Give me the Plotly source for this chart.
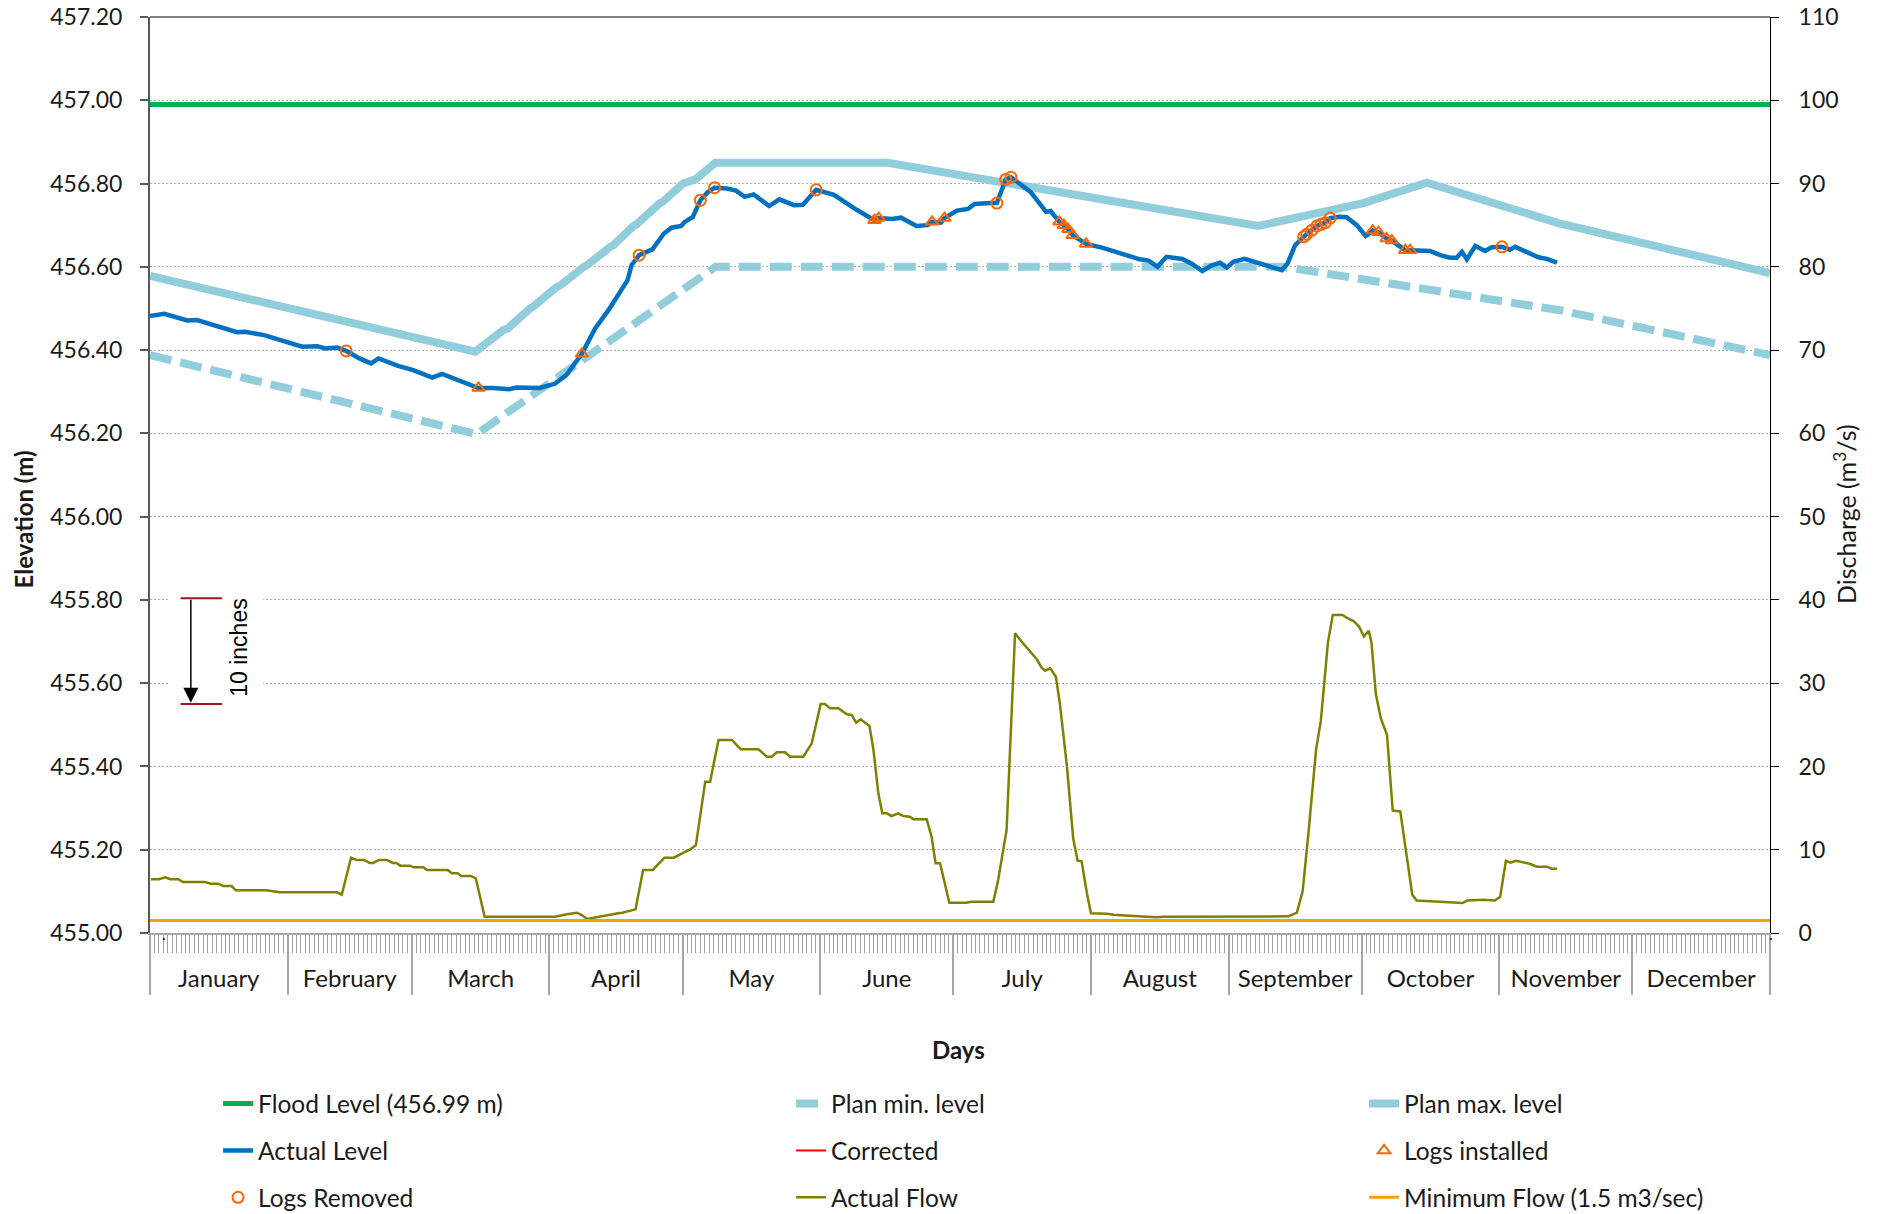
import pandas as pd
import plotly.graph_objects as go

YEAR_START = pd.Timestamp("2015-01-01")
YEAR_END = pd.Timestamp("2016-01-01")

# ---- Reservoir operating envelope (day of year, elevation m) ----
plan_max_day = [0, 73.3, 79.6, 80.6, 85.6, 86.4, 91.6, 92.4, 97.7, 98.5, 103.7, 104.4,
                108.9, 109.6, 114.9, 115.6, 120.1, 122.9, 127.4, 166.2, 249.7, 273.4,
                287.7, 317.3, 365]
plan_max_elev = [456.578, 456.396, 456.448, 456.452, 456.500, 456.505, 456.551, 456.555,
                 456.600, 456.604, 456.648, 456.652, 456.698, 456.702, 456.753, 456.757,
                 456.800, 456.810, 456.850, 456.850, 456.698, 456.753, 456.802, 456.705,
                 456.585]

plan_min_day = [0, 73.6, 127.4, 255.4, 318, 365]
plan_min_elev = [456.388, 456.198, 456.600, 456.600, 456.495, 456.388]

flood_day = [0, 365]
flood_elev = [456.99, 456.99]

# ---- Observed reservoir level ----
level_day = [0, 3.2, 8.4, 10.6, 19.6, 21.4, 25.7, 34.3, 37.7, 39.5, 42.1, 44.2, 47.2, 49.8,
             51.5, 55.9, 59.3, 63.6, 65.8, 68.8, 74.0, 77.4, 80.9, 82.6, 87.8, 91.2, 93.8,
             97.3, 100.3, 103.3, 107.6, 108.5, 110.2, 113.2, 115.8, 117.5, 119.7, 120.5,
             122.3, 124.0, 125.7, 127.2, 130, 132, 134, 136, 139.5, 141.8, 145.1, 147.1,
             150.1, 154.1, 157.1, 159.2, 163.2, 164.2, 167.2, 169.2, 172.7, 175.2, 176.2,
             178.2, 179.0, 181.8, 184.3, 185.8, 189.3, 190.8, 192.8, 194.0, 198.4, 201.9,
             202.9, 204.9, 205.9, 206.9, 207.9, 210.9, 214.5, 218, 220.5, 223, 225, 227,
             229, 232.6, 234.6, 237.1, 239.1, 241.1, 242.6, 244.1, 246.6, 249.4, 252.7,
             255.0, 256.3, 258.0, 259.9, 260.6, 261.8, 262.9, 263.8, 264.8, 265.9, 268.1,
             269.6, 271.9, 273.9, 275.5, 276.8, 278.6, 279.8, 281.7, 282.8, 283.9, 286.2,
             288.4, 290.7, 292.9, 294.4, 295.6, 296.7, 298.6, 300.8, 302.3, 304.6, 306.4,
             307.6, 310.2, 312.8, 314.7, 317.0]
level_elev = [456.482, 456.487, 456.471, 456.472, 456.443, 456.444, 456.436, 456.408,
              456.409, 456.404, 456.406, 456.398, 456.380, 456.368, 456.380, 456.362,
              456.352, 456.334, 456.343, 456.330, 456.309, 456.309, 456.306, 456.310,
              456.309, 456.319, 456.340, 456.391, 456.452, 456.496, 456.568, 456.604,
              456.628, 456.642, 456.680, 456.694, 456.698, 456.708, 456.720, 456.760,
              456.780, 456.790, 456.788, 456.783, 456.768, 456.774, 456.746, 456.762,
              456.748, 456.749, 456.785, 456.773, 456.751, 456.737, 456.712, 456.717,
              456.715, 456.718, 456.698, 456.700, 456.708, 456.706, 456.717, 456.735,
              456.739, 456.751, 456.753, 456.753, 456.810, 456.815, 456.780, 456.732,
              456.734, 456.708, 456.700, 456.690, 456.676, 456.655, 456.646, 456.634,
              456.628, 456.618, 456.615, 456.600, 456.624, 456.619, 456.608, 456.590,
              456.603, 456.610, 456.598, 456.612, 456.619, 456.610, 456.599, 456.592,
              456.608, 456.652, 456.672, 456.678, 456.688, 456.698, 456.702, 456.706,
              456.717, 456.720, 456.719, 456.700, 456.674, 456.687, 456.683, 456.668,
              456.663, 456.647, 456.640, 456.640, 456.639, 456.638, 456.628, 456.622,
              456.622, 456.636, 456.618, 456.650, 456.638, 456.647, 456.648, 456.641,
              456.648, 456.635, 456.623, 456.619, 456.610]

# ---- Stop-log operations ----
installed_day = [74.0, 97.3, 163.2, 164.2, 176.2, 179.0, 204.9, 205.9, 206.9, 207.9, 210.9,
                 275.5, 276.8, 278.6, 279.8, 282.8, 283.9]
installed_elev = [456.309, 456.391, 456.712, 456.717, 456.708, 456.717, 456.708, 456.700,
                  456.690, 456.676, 456.655, 456.687, 456.683, 456.668, 456.663, 456.640,
                  456.640]

removed_day = [44.2, 110.2, 124.0, 127.2, 150.1, 190.8, 192.8, 194.0, 259.9, 260.6, 261.8,
               262.9, 263.8, 264.8, 265.9, 304.6]
removed_elev = [456.398, 456.628, 456.760, 456.790, 456.785, 456.753, 456.810, 456.815,
                456.672, 456.678, 456.688, 456.698, 456.702, 456.706, 456.717, 456.648]

# ---- Discharge (m3/s) ----
flow_day = [0.2, 2, 3.4, 4.6, 6.4, 7.4, 12.4, 13.7, 15.4, 16.5, 18.4, 19.3, 26.2, 29.2, 42.1,
            43.2, 45.3, 46.5, 48.2, 49.5, 50.3, 51.6, 53.4, 54.7, 55.5, 56.4, 58.5, 59.4,
            61.6, 62.4, 67.1, 68.0, 69.3, 70.2, 72.3, 73.4, 75.4, 91.3, 93.9, 95.2, 96.2,
            97.3, 98.5, 105.5, 106.4, 109.4, 111.1, 113.3, 115.9, 118.0, 120.2, 121.9,
            123.0, 125.1, 126.2, 128.1, 131.1, 133.1, 137.1, 139.0, 140.1, 141.2, 143.1,
            144.2, 147.2, 149.1, 151.1, 152.1, 153.2, 155.1, 157.0, 158.1, 159.1, 160.1,
            162.1, 163.0, 164.1, 165.0, 166.0, 167.1, 168.6, 169.7, 171.2, 172.0, 175.0,
            176.1, 177.0, 178.0, 180.1, 184.0, 185.1, 190.0, 191.1, 193.0, 194.9, 196.4,
            199.8, 200.9, 201.7, 202.8, 204.1, 205.0, 206.6, 208.0, 209.0, 209.9, 211.1,
            212.0, 215.6, 217.1, 221.6, 226.8, 228.3, 236.6, 256.5, 258.4, 259.7, 261.1,
            262.7, 263.8, 265.4, 266.5, 268.7, 269.8, 271.1, 272.4, 273.5, 274.6, 275.2,
            276.2, 277.3, 278.7, 279.5, 280.0, 281.7, 282.7, 284.4, 285.4, 295.7, 296.8,
            300.3, 303.0, 304.2, 305.5, 306.5, 307.8, 309.4, 311.0, 312.5, 314.7, 315.8,
            317.0]
flow_val = [6.45, 6.45, 6.69, 6.45, 6.45, 6.12, 6.12, 5.92, 5.92, 5.64, 5.64, 5.12, 5.12,
            4.88, 4.88, 4.60, 9.05, 8.77, 8.77, 8.41, 8.41, 8.77, 8.77, 8.41, 8.41, 8.09,
            8.09, 7.89, 7.89, 7.57, 7.57, 7.17, 7.17, 6.85, 6.85, 6.57, 1.96, 1.96, 2.24,
            2.36, 2.44, 2.16, 1.68, 2.36, 2.44, 2.84, 7.57, 7.57, 9.05, 9.05, 9.69, 10.09,
            10.57, 18.17, 18.17, 23.18, 23.18, 22.06, 22.06, 21.17, 21.17, 21.70, 21.70,
            21.17, 21.17, 22.78, 27.50, 27.50, 26.98, 26.98, 26.26, 26.18, 25.26, 25.66,
            24.86, 21.98, 16.78, 14.37, 14.37, 14.05, 14.37, 14.05, 13.97, 13.65, 13.65,
            11.56, 8.37, 8.37, 3.64, 3.64, 3.76, 3.76, 6.36, 12.37, 35.99, 34.98, 32.87,
            31.86, 31.50, 31.82, 30.78, 27.58, 19.97, 11.37, 8.68, 8.60, 4.77, 2.37, 2.32,
            2.20, 2.04, 1.88, 1.96, 1.96, 2.00, 2.45, 5.0, 12.5, 21.9, 25.5, 34.9, 38.2,
            38.2, 37.8, 37.5, 36.8, 35.6, 36.3, 34.9, 28.7, 25.8, 23.8, 18.6, 14.7, 14.6,
            11.1, 4.6, 3.9, 3.6, 3.9, 4.0, 3.9, 4.36, 8.68, 8.44, 8.68, 8.44, 8.29, 7.97,
            7.97, 7.73, 7.73]

min_flow_day = [0, 365]
min_flow_val = [1.5, 1.5]

# Corrected level series (no corrections this year)
corrected_day = [0]
corrected_elev = [None]

# 10-inch reference bar (0.254 m)
bar_day = [6.9, 16.2]
bar_top = 455.804
bar_len_m = 0.254
bar_arrow_day = 9.2


def to_date(days):
    return [YEAR_START + pd.Timedelta(days=float(d)) for d in days]


FONT = "Lato"
TXT = "#1a1a1a"
PLAN = "#92CDDC"
ORANGE = "#FF6600"

fig = go.Figure()

fig.add_trace(go.Scatter(x=to_date(plan_max_day), y=plan_max_elev, mode="lines",
                         name="Plan max. level", line=dict(color=PLAN, width=8),
                         legend="legend", legendrank=3, legendwidth=300))
fig.add_trace(go.Scatter(x=to_date(plan_min_day), y=plan_min_elev, mode="lines",
                         name="Plan min. level",
                         line=dict(color=PLAN, width=8, dash="22px,9px"),
                         legend="legend", legendrank=2, legendwidth=528))
fig.add_trace(go.Scatter(x=to_date(flood_day), y=flood_elev, mode="lines",
                         name="Flood Level (456.99 m)", line=dict(color="#00B050", width=5),
                         legend="legend", legendrank=1, legendwidth=528))
fig.add_trace(go.Scatter(x=to_date(level_day), y=level_elev, mode="lines",
                         name="Actual Level", line=dict(color="#0070C0", width=4.5),
                         legend="legend2", legendrank=1, legendwidth=528))
fig.add_trace(go.Scatter(x=to_date(corrected_day), y=corrected_elev, mode="lines",
                         name="Corrected", line=dict(color="#FF0000", width=2),
                         legend="legend2", legendrank=2, legendwidth=528))
fig.add_trace(go.Scatter(x=to_date(installed_day), y=installed_elev, mode="markers",
                         name="Logs installed",
                         marker=dict(symbol="triangle-up-open", size=11, color=ORANGE,
                                     line=dict(width=2)),
                         legend="legend2", legendrank=3, legendwidth=300))
fig.add_trace(go.Scatter(x=to_date(removed_day), y=removed_elev, mode="markers",
                         name="Logs Removed",
                         marker=dict(symbol="circle-open", size=11, color=ORANGE,
                                     line=dict(width=2)),
                         legend="legend3", legendrank=1, legendwidth=528))
fig.add_trace(go.Scatter(x=to_date(flow_day), y=flow_val, mode="lines", yaxis="y2",
                         name="Actual Flow", line=dict(color="#808000", width=2.5),
                         legend="legend3", legendrank=2, legendwidth=528))
fig.add_trace(go.Scatter(x=to_date(min_flow_day), y=min_flow_val, mode="lines", yaxis="y2",
                         name="Minimum Flow (1.5 m3/sec)",
                         line=dict(color="#FFA000", width=3),
                         legend="legend3", legendrank=3, legendwidth=300))

# 10-inch scale bar
bar_bottom = bar_top - bar_len_m
shapes = [
    dict(type="rect", xref="x", yref="y", x0=to_date([4.5])[0], x1=to_date([25.5])[0],
         y0=455.50, y1=455.85, fillcolor="white", line=dict(width=0), layer="above"),
    dict(type="line", xref="x", yref="y", x0=to_date([bar_day[0]])[0],
         x1=to_date([bar_day[1]])[0], y0=bar_top, y1=bar_top,
         line=dict(color="#A0161B", width=2), layer="above"),
    dict(type="line", xref="x", yref="y", x0=to_date([bar_day[0]])[0],
         x1=to_date([bar_day[1]])[0], y0=bar_bottom, y1=bar_bottom,
         line=dict(color="#A0161B", width=2), layer="above"),
    dict(type="line", xref="paper", yref="paper", x0=0, x1=1, y0=1, y1=1,
         line=dict(color="black", width=1), layer="above"),
]

annotations = [
    dict(xref="x", yref="y", axref="x", ayref="y",
         x=to_date([bar_arrow_day])[0], y=bar_bottom + 0.003,
         ax=to_date([bar_arrow_day])[0], ay=bar_top,
         text="", showarrow=True, arrowhead=2, arrowsize=2, arrowwidth=1.5,
         arrowcolor="black"),
    dict(xref="x", yref="y", x=to_date([20.05])[0], y=455.685, text="10 inches",
         textangle=-90, showarrow=False,
         font=dict(family="Liberation Sans, Arial", size=23, color="black")),
    dict(xref="paper", yref="paper", x=-0.0877, y=0.452, text="<b>Elevation (m)</b>",
         textangle=-90, showarrow=False, font=dict(family=FONT, size=24, color=TXT)),
    dict(xref="paper", yref="paper", x=1.0577, y=0.4574, text="Discharge (m<sup>3</sup>/s)",
         textangle=-90, showarrow=False, font=dict(family=FONT, size=25, color=TXT)),
    dict(xref="paper", yref="paper", x=0.4988, y=-0.1447, text="<b>Days</b>",
         showarrow=False, font=dict(family=FONT, size=24, color=TXT)),
    dict(xref="paper", yref="paper", x=0.0062, y=-0.0131, text=".", showarrow=False,
         font=dict(family=FONT, size=16, color="black")),
    dict(xref="paper", yref="paper", x=1.0031, y=-0.0131, text=".", showarrow=False,
         font=dict(family=FONT, size=16, color="black")),
]

legend_common = dict(orientation="h", xanchor="left", yanchor="middle", x=0.042,
                     bgcolor="rgba(0,0,0,0)", itemwidth=30, traceorder="normal",
                     font=dict(family=FONT, size=24.5, color=TXT))

fig.update_layout(
    width=1883, height=1214,
    paper_bgcolor="white", plot_bgcolor="white",
    margin=dict(l=150, r=113, t=17, b=281, autoexpand=False),
    font=dict(family=FONT, size=22, color=TXT),
    showlegend=True,
    legend=dict(legend_common, y=-0.1862),
    legend2=dict(legend_common, y=-0.2375),
    legend3=dict(legend_common, y=-0.2886),
    xaxis=dict(
        type="date", range=[YEAR_START, YEAR_END],
        tick0=YEAR_START, dtick="M1", tickformat="%B", ticklabelmode="period",
        ticks="outside", ticklen=60, tickwidth=1.5, tickcolor="#A6A6A6",
        showline=True, linecolor="#A6A6A6", linewidth=1.5,
        showgrid=False, zeroline=False,
        minor=dict(dtick=86400000, tick0=YEAR_START, ticks="outside", ticklen=18,
                   tickwidth=1, tickcolor="#A0A0A0", showgrid=False),
        tickfont=dict(family=FONT, size=24, color=TXT),
        ticklabelstandoff=-37,
    ),
    yaxis=dict(
        range=[455.0, 457.2], dtick=0.2, tick0=455.0, tickformat=".2f",
        showgrid=True, gridcolor="#B0B0B0", gridwidth=1, griddash="2px,2px",
        showline=True, linecolor="#595959", linewidth=2,
        ticks="outside", ticklen=8, tickwidth=1.5, tickcolor="#595959",
        zeroline=False, tickfont=dict(family=FONT, size=23, color=TXT),
        ticklabelstandoff=13,
    ),
    yaxis2=dict(
        overlaying="y", side="right", range=[0, 110], dtick=10, tick0=0,
        showgrid=False, showline=True, linecolor="black", linewidth=1,
        ticks="outside", ticklen=8, tickwidth=1, tickcolor="black",
        zeroline=False, tickfont=dict(family=FONT, size=23, color=TXT),
        ticklabelstandoff=15,
    ),
    shapes=shapes,
    annotations=annotations,
)

fig.write_html("out.html")
